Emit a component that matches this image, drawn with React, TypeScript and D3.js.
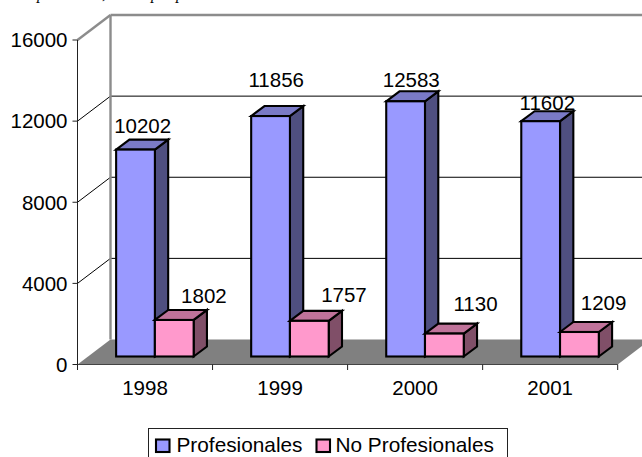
import React from "react";
import * as d3 from "d3";

const years = ["1998", "1999", "2000", "2001"];
const profesionales = [10202, 11856, 12583, 11602];
const noProfesionales = [1802, 1757, 1130, 1209];
const yTicks = [0, 4000, 8000, 12000, 16000];
const legendNames = ["Profesionales", "No Profesionales"];

const profNudgeX = [0.5, -1, -1, 0];
const profNudgeY = [0, -12, 3, 5.5];
const noProfNudgeX = [23, 28, 24.5, 17.5];
const noProfNudgeY = [0.5, -1.7, -5, -4.5];

const W = 642, H = 457;
const FONT = "'Liberation Sans', Arial, sans-serif";
const x0 = 77.5, x1 = 617.7, yBase = 364.5, yTop = 40;
const wallDx = 33, wallDy = -25;
const barDx = 13.3, barDy = -10;
const frontDy = -8;

const colors = {
  prof: { front: "#9999FF", top: "#7A7AC6", side: "#4F4F80" },
  noProf: { front: "#FF99CC", top: "#C0739A", side: "#804F68" },
};

const xScale = d3.scaleBand<string>().domain(years).range([x0, x1]);
const yScale = d3.scaleLinear().domain([0, 16000]).range([yBase, yTop]);

function pts(p: [number, number][]) {
  return p.map((d) => d.join(",")).join(" ");
}

function Bar({ x, w, v, c }: { x: number; w: number; v: number; c: { front: string; top: string; side: string } }) {
  const yb = yScale(0) + frontDy;
  const yt = yScale(v) + frontDy;
  const s = { stroke: "#000", strokeWidth: 2.1, strokeLinejoin: "miter" as const };
  return (
    <g>
      <polygon {...s} fill={c.side} points={pts([[x + w, yt], [x + w + barDx, yt + barDy], [x + w + barDx, yb + barDy], [x + w, yb]])} />
      <polygon {...s} fill={c.top} points={pts([[x, yt], [x + barDx, yt + barDy], [x + w + barDx, yt + barDy], [x + w, yt]])} />
      <rect {...s} fill={c.front} x={x} y={yt} width={w} height={yb - yt} />
    </g>
  );
}

export default function App() {
  const bw = xScale.bandwidth();
  const barW = bw * 0.287;
  const barOff = bw * 0.286;
  const numStyle = { fontFamily: FONT, fontSize: 20.5, fill: "#000" };
  return (
    <svg width={W} height={H} viewBox={`0 0 ${W} ${H}`} style={{ position: "absolute", left: 0, top: 0, background: "#fff" }}>
      {/* cut-off caption at the top edge */}
      <g fontFamily="'Liberation Serif', serif" fontStyle="italic" fontSize={16} fill="#000">
        <text x={37} y={-1}>p</text>
        <text x={102} y={-1}>,</text>
        <text x={151} y={-1}>p</text>
        <text x={176} y={-1}>p</text>
      </g>

      {/* gridlines on wall */}
      {yTicks.slice(1, -1).map((t) => (
        <g key={t} stroke="#000" strokeWidth={1} fill="none">
          <line x1={x0} y1={yScale(t)} x2={x0 + wallDx} y2={yScale(t) + wallDy} />
          <line x1={x0 + wallDx} y1={yScale(t) + wallDy} x2={W} y2={yScale(t) + wallDy} />
        </g>
      ))}

      {/* wall frame */}
      <g stroke="#8C8C8C" strokeWidth={2.4} fill="none">
        <line x1={x0} y1={yScale(16000)} x2={x0 + wallDx} y2={yScale(16000) + wallDy} />
        <line x1={x0 + wallDx} y1={yScale(16000) + wallDy} x2={W} y2={yScale(16000) + wallDy} />
        <line x1={x0 + wallDx} y1={yScale(16000) + wallDy} x2={x0 + wallDx} y2={yScale(0) + wallDy} />
      </g>

      {/* floor */}
      <polygon
        fill="#808080"
        points={pts([[x0, yBase], [x1, yBase], [x1 + wallDx, yBase + wallDy], [x0 + wallDx, yBase + wallDy]])}
      />

      {/* axes */}
      <g stroke="#222" strokeWidth={1} fill="none">
        <line x1={x0} y1={yScale(16000)} x2={x0} y2={yBase + 5.5} />
        <line x1={x0} y1={yBase} x2={x1} y2={yBase} stroke="#444" />
        {yTicks.map((t) => (
          <line key={t} x1={x0 - 5} y1={yScale(t)} x2={x0} y2={yScale(t)} />
        ))}
        {years.map((y) => (
          <line key={y} x1={(xScale(y) as number) + bw} y1={yBase} x2={(xScale(y) as number) + bw} y2={yBase + 5.5} />
        ))}
      </g>

      {yTicks.map((t) => (
        <text key={t} {...numStyle} x={67.5} y={yScale(t) + 7.3} textAnchor="end">{t}</text>
      ))}
      {years.map((y) => (
        <text key={y} {...numStyle} x={(xScale(y) as number) + bw / 2} y={395} textAnchor="middle">{y}</text>
      ))}

      {/* bars */}
      {years.map((y, i) => {
        const bx = (xScale(y) as number) + barOff;
        return (
          <g key={y}>
            <Bar x={bx} w={barW} v={profesionales[i]} c={colors.prof} />
            <Bar x={bx + barW} w={barW} v={noProfesionales[i]} c={colors.noProf} />
          </g>
        );
      })}

      {/* data labels */}
      {years.map((y, i) => {
        const bx = (xScale(y) as number) + barOff;
        const cx1 = bx + barW / 2 + barDx / 2;
        const cx2 = bx + barW * 1.5 + barDx / 2;
        return (
          <g key={y}>
            <text {...numStyle} textAnchor="middle" x={cx1 + profNudgeX[i]}
              y={yScale(profesionales[i]) + frontDy + barDy - 7 + profNudgeY[i]}>{profesionales[i]}</text>
            <text {...numStyle} textAnchor="middle" x={cx2 + noProfNudgeX[i]}
              y={yScale(noProfesionales[i]) + frontDy + barDy - 7.5 + noProfNudgeY[i]}>{noProfesionales[i]}</text>
          </g>
        );
      })}

      {/* legend */}
      <rect x={148.5} y={428.5} width={359} height={40} fill="#fff" stroke="#222" strokeWidth={1} />
      <rect x={156} y={439.5} width={13.5} height={12.5} fill={colors.prof.front} stroke="#000" strokeWidth={2.1} />
      <text x={176.5} y={451.7} fontFamily={FONT} fontSize={20.8} fill="#000">{legendNames[0]}</text>
      <rect x={316.5} y={439.5} width={13.5} height={12.5} fill={colors.noProf.front} stroke="#000" strokeWidth={2.1} />
      <text x={335.5} y={451.7} fontFamily={FONT} fontSize={20.8} fill="#000">{legendNames[1]}</text>
    </svg>
  );
}
